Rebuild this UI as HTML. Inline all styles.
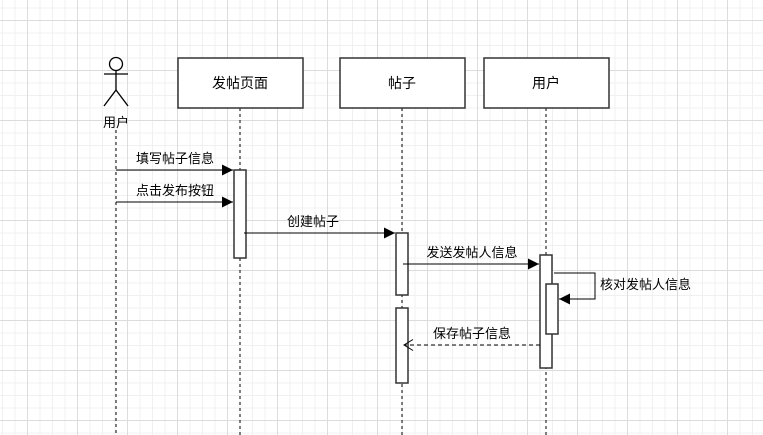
<!DOCTYPE html>
<html><head><meta charset="utf-8"><style>
html,body{margin:0;padding:0;}
body{width:763px;height:435px;overflow:hidden;background-color:#fff;
background-image:linear-gradient(#dcdcdc 1px,transparent 1px),linear-gradient(90deg,#dcdcdc 1px,transparent 1px),linear-gradient(#f0f0f0 1px,transparent 1px),linear-gradient(90deg,#f0f0f0 1px,transparent 1px);
background-size:50px 50px,50px 50px,12.5px 12.5px,12.5px 12.5px;
background-position:0 20px,27px 0,0 7.5px,2px 0;}
svg text{font-family:"Liberation Sans","Noto Sans CJK SC",sans-serif;font-size:13px;fill:#000;}
</style></head><body>
<svg width="763" height="435" style="position:absolute;left:0;top:0">
<defs>
<marker id="a" markerWidth="12" markerHeight="12" refX="11" refY="6" orient="auto" markerUnits="userSpaceOnUse"><path d="M0,0.5 L11,6 L0,11.5 z" fill="#000"/></marker>
<marker id="o" markerWidth="12" markerHeight="12" refX="10" refY="6" orient="auto" markerUnits="userSpaceOnUse"><path d="M1,0.5 L10,6 L1,11.5" fill="none" stroke="#000"/></marker>
</defs>
<g stroke="#000" stroke-dasharray="3,3" stroke-width="1">
<line x1="116" y1="130" x2="116" y2="435"/>
<line x1="240" y1="108" x2="240" y2="435"/>
<line x1="402" y1="108" x2="402" y2="435"/>
<line x1="546" y1="108" x2="546" y2="435"/>
</g>
<g stroke="#000" fill="none" stroke-width="1.3">
<circle cx="116" cy="64" r="6.5" fill="#fff"/>
<line x1="116" y1="70" x2="116" y2="90"/>
<line x1="104" y1="74" x2="128" y2="74"/>
<line x1="116" y1="90" x2="104" y2="106"/>
<line x1="116" y1="90" x2="128" y2="106"/>
</g>
<text x="116" y="127" text-anchor="middle">用户</text>
<g fill="#fff" stroke="#333" stroke-width="1.5">
<rect x="178" y="58" width="125" height="50"/>
<rect x="340" y="58" width="125" height="50"/>
<rect x="484" y="58" width="125" height="50"/>
<rect x="234" y="170" width="12" height="88"/>
<rect x="396" y="233" width="12" height="62"/>
<rect x="396" y="308" width="12" height="75"/>
<rect x="540" y="255" width="12" height="113"/>
<rect x="546" y="284" width="12" height="50"/>
</g>
<text x="240" y="88" text-anchor="middle" style="font-size:14px">发帖页面</text>
<text x="402" y="88" text-anchor="middle" style="font-size:14px">帖子</text>
<text x="546" y="88" text-anchor="middle" style="font-size:14px">用户</text>
<g stroke="#000" stroke-width="1" fill="none">
<line x1="116" y1="170" x2="233" y2="170" marker-end="url(#a)"/>
<line x1="116" y1="202" x2="233" y2="202" marker-end="url(#a)"/>
<line x1="244" y1="233" x2="395" y2="233" marker-end="url(#a)"/>
<line x1="403" y1="264" x2="539" y2="264" marker-end="url(#a)"/>
<polyline points="554,273 595,273 595,299 559,299" marker-end="url(#a)"/>
<line x1="540" y1="345" x2="404" y2="345" stroke-dasharray="4,3" marker-end="url(#o)"/>
</g>
<text x="175" y="163" text-anchor="middle">填写帖子信息</text>
<text x="175" y="195" text-anchor="middle">点击发布按钮</text>
<text x="313" y="226" text-anchor="middle">创建帖子</text>
<text x="472" y="257" text-anchor="middle">发送发帖人信息</text>
<text x="600" y="289">核对发帖人信息</text>
<text x="472" y="338" text-anchor="middle">保存帖子信息</text>
</svg>
</body></html>
